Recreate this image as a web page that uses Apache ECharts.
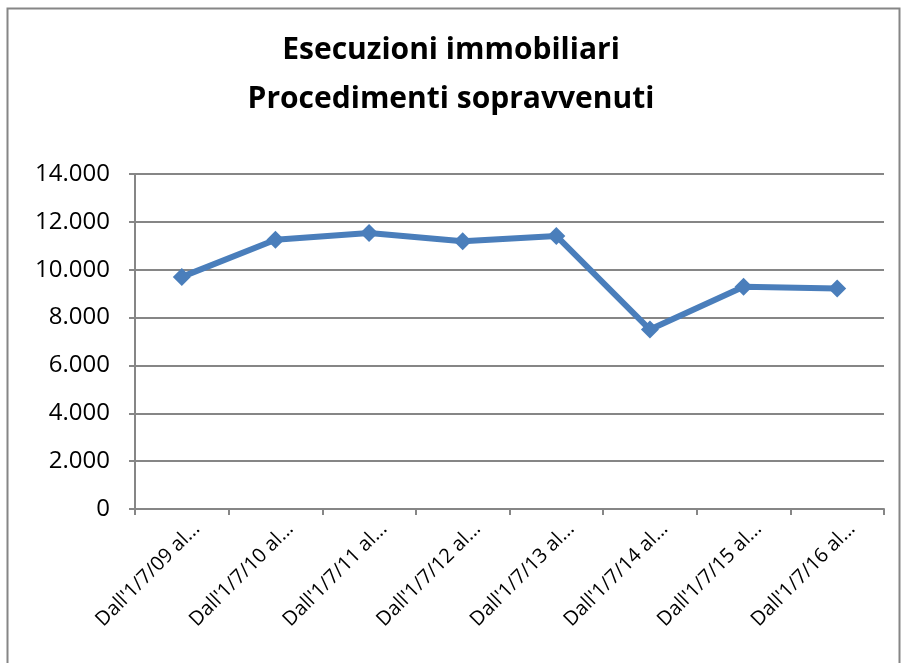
<!DOCTYPE html>
<html>
<head>
<meta charset="utf-8">
<script src="https://cdn.jsdelivr.net/npm/echarts@6/dist/echarts.min.js"></script>
<style>
    html, body { margin: 0; padding: 0; background: #fff; }
    #chart { width: 902px; height: 663px; }
</style>
</head>
<body>
<div id="chart"></div>
<script>
// categorie (etichette come appaiono, troncate)
const categories = [
    "Dall'1/7/09 al...",
    "Dall'1/7/10 al...",
    "Dall'1/7/11 al...",
    "Dall'1/7/12 al...",
    "Dall'1/7/13 al...",
    "Dall'1/7/14 al...",
    "Dall'1/7/15 al...",
    "Dall'1/7/16 al..."
]
// procedimenti sopravvenuti
const sopravvenuti = [9700, 11250, 11530, 11190, 11410, 7500, 9290, 9220]
const yTicks = [0, 2000, 4000, 6000, 8000, 10000, 12000, 14000]

const chart = echarts.init(document.getElementById('chart'))

// formato con punto come separatore delle migliaia
function fmt(v) {
    return String(v).replace(/\B(?=(\d{3})+(?!\d))/g, '.')
}

let option = {
    backgroundColor: '#fff',
    animation: false,
    title: {
        text: 'Esecuzioni immobiliari\nProcedimenti sopravvenuti',
        left: 'center',
        top: 21,
        textStyle: {
            fontFamily: 'Open Sans',
            fontWeight: 'bold',
            fontSize: 30,
            lineHeight: 49,
            color: '#000'
        }
    },
    // cornice esterna del grafico
    graphic: [
        {
            type: 'rect',
            shape: { x: 7.5, y: 8.5, width: 892, height: 700 },
            style: { fill: 'none', stroke: '#868686', lineWidth: 2 },
            silent: true
        }
    ],
    grid: {
        left: 135,
        right: 18,
        top: 174,
        bottom: 154
    },
    xAxis: {
        type: 'category',
        data: categories,
        boundaryGap: true,
        axisLine: { lineStyle: { color: '#868686', width: 2 } },
        axisTick: { show: true, length: 6, lineStyle: { color: '#868686', width: 2 } },
        axisLabel: {
            rotate: 45,
            interval: 0,
            margin: 2,
            verticalAlign: 'top',
            lineHeight: 42,
            fontFamily: 'Open Sans',
            fontSize: 20,
            color: '#000'
        }
    },
    yAxis: {
        type: 'value',
        min: yTicks[0],
        max: yTicks[yTicks.length - 1],
        interval: 2000,
        axisLine: { show: true, lineStyle: { color: '#868686', width: 2 } },
        axisTick: { show: true, length: 6, lineStyle: { color: '#868686', width: 2 } },
        splitLine: { lineStyle: { color: '#868686', width: 2 } },
        axisLabel: {
            margin: 25,
            fontFamily: 'Open Sans',
            fontSize: 24,
            color: '#000',
            formatter: fmt
        }
    },
    series: [
        {
            name: 'Procedimenti sopravvenuti',
            type: 'line',
            data: sopravvenuti,
            symbol: 'diamond',
            symbolSize: 18,
            lineStyle: { color: '#4a7ebb', width: 6 },
            itemStyle: { color: '#4a7ebb' }
        }
    ]
}

chart.setOption(option)
</script>
</body>
</html>
